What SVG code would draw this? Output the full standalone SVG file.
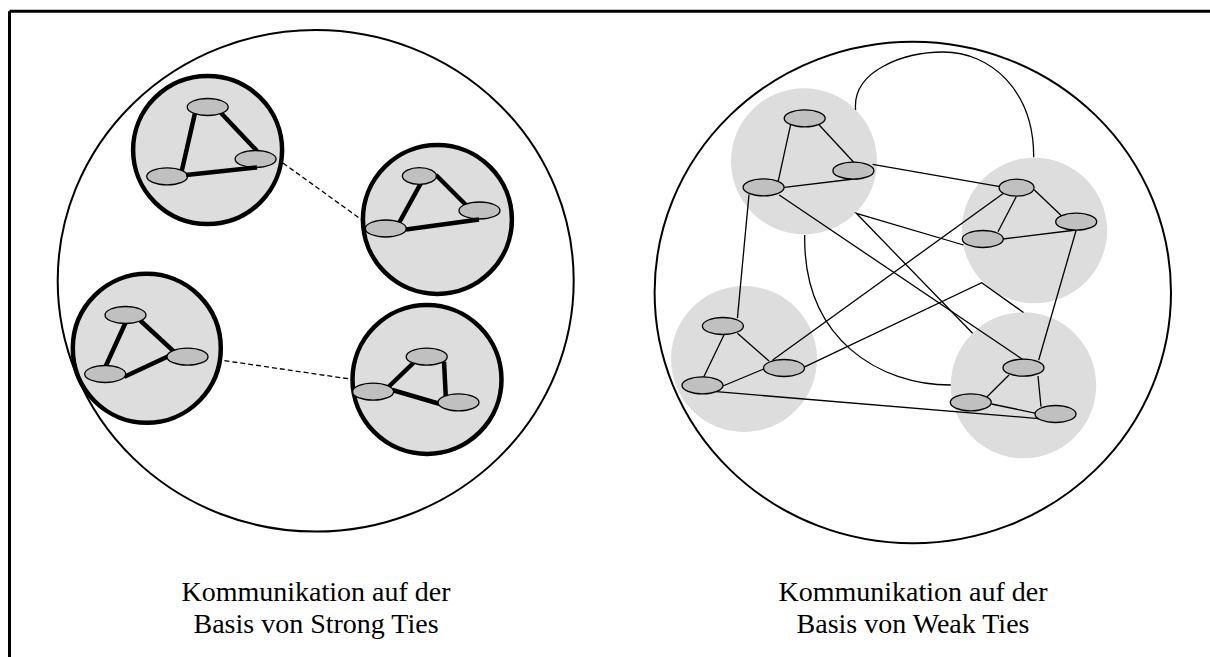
<svg xmlns="http://www.w3.org/2000/svg" width="1210" height="657" viewBox="0 0 1210 657">
<style>
.big{fill:#ffffff;stroke:#000;stroke-width:2}
.sc{fill:#dddddd;stroke:#000;stroke-width:4.5}
.wc{fill:#dddddd;stroke:none}
.n{fill:#c0c0c0;stroke:#000;stroke-width:1.3}
.se{stroke:#000;stroke-width:4.5;fill:none}
.de{stroke:#000;stroke-width:1.3;stroke-dasharray:5 3;fill:none}
.we{stroke:#000;stroke-width:1.3;fill:none}
.lbl{font-family:"Liberation Serif","Times New Roman",serif;font-size:28px;fill:#000;text-anchor:middle}
</style>
<rect width="1210" height="657" fill="#fff"/>
<g id="frame" stroke="#000" stroke-width="3" fill="none">
<line x1="9.5" y1="11.3" x2="1210" y2="11.3"/>
<line x1="9.5" y1="11.3" x2="9.5" y2="657"/>
</g>
<!-- LEFT: strong ties -->
<g id="strong-outer"><ellipse class="big" cx="315.7" cy="280.8" rx="258" ry="250.8"/></g>
<g id="strong-connectors">
<line class="de" x1="283" y1="163" x2="362" y2="220"/>
<line class="de" x1="208.6" y1="358.3" x2="352" y2="379.3"/>
</g>
<g id="cluster-s1">
<ellipse class="sc" cx="207.6" cy="150" rx="74.5" ry="74"/>
<line class="se" x1="195" y1="113" x2="181.5" y2="172"/>
<line class="se" x1="221" y1="113" x2="257" y2="151"/>
<ellipse class="n" cx="207.7" cy="107" rx="20.5" ry="8.5"/>
<ellipse class="n" cx="255.6" cy="159" rx="20.5" ry="8.5"/>
<ellipse class="n" cx="167.2" cy="176.3" rx="20.5" ry="8.5"/>
<line class="se" x1="186" y1="175" x2="257" y2="167.5"/>
</g>
<g id="cluster-s2">
<ellipse class="sc" cx="437.4" cy="219.5" rx="74.5" ry="74.5"/>
<line class="se" x1="421" y1="183" x2="399" y2="223"/>
<line class="se" x1="436" y1="175" x2="467" y2="206"/>
<ellipse class="n" cx="419.4" cy="176" rx="17" ry="8.3"/>
<ellipse class="n" cx="479.5" cy="210.5" rx="20.5" ry="8.5"/>
<ellipse class="n" cx="385.8" cy="228.5" rx="20.5" ry="8.5"/>
<line class="se" x1="406" y1="229.5" x2="479" y2="219.5"/>
</g>
<g id="cluster-s3">
<ellipse class="sc" cx="146.8" cy="348.3" rx="74" ry="74.5"/>
<line class="se" x1="126.3" y1="321" x2="105.2" y2="367.3"/>
<line class="se" x1="139.7" y1="320" x2="174" y2="351.7"/>
<line class="se" x1="124.4" y1="376.7" x2="170" y2="355.5"/>
<ellipse class="n" cx="125.5" cy="315" rx="20.5" ry="8.5"/>
<ellipse class="n" cx="187.5" cy="356.7" rx="20.5" ry="8.5"/>
<ellipse class="n" cx="105.2" cy="374" rx="20.5" ry="8.5"/>
</g>
<g id="cluster-s4">
<ellipse class="sc" cx="427" cy="379.5" rx="74.5" ry="74.5"/>
<line class="se" x1="413.3" y1="363" x2="388.4" y2="387"/>
<line class="se" x1="444" y1="361.7" x2="445.8" y2="397"/>
<line class="se" x1="392.3" y1="390" x2="440" y2="404"/>
<ellipse class="n" cx="426.7" cy="356.7" rx="20.5" ry="8.5"/>
<ellipse class="n" cx="373.1" cy="391.7" rx="20.5" ry="8.5"/>
<ellipse class="n" cx="458.5" cy="402.3" rx="20.5" ry="8.5"/>
</g>
<!-- RIGHT: weak ties -->
<g id="weak-outer"><ellipse class="big" cx="912.8" cy="292.5" rx="258.2" ry="250.8"/></g>
<g id="cluster-wA"><ellipse class="wc" cx="804" cy="161.3" rx="73" ry="73"/></g>
<g id="cluster-wB"><ellipse class="wc" cx="1034.4" cy="230.5" rx="72.7" ry="72.8"/></g>
<g id="cluster-wC"><ellipse class="wc" cx="744" cy="359" rx="73" ry="73"/></g>
<g id="cluster-wD"><ellipse class="wc" cx="1023.5" cy="385.3" rx="72.7" ry="73"/></g>
<g id="weak-connectors">
<line class="we" x1="790.9" y1="123.3" x2="778.1" y2="181.7"/>
<line class="we" x1="819.2" y1="125" x2="853.7" y2="162.3"/>
<line class="we" x1="784.3" y1="187.3" x2="858" y2="178.5"/>
<line class="we" x1="1016.2" y1="196.7" x2="998" y2="231.7"/>
<line class="we" x1="1034.4" y1="190" x2="1061.7" y2="216"/>
<line class="we" x1="1002.8" y1="239" x2="1076.2" y2="230"/>
<line class="we" x1="724.3" y1="334.3" x2="703.6" y2="377.3"/>
<line class="we" x1="737.4" y1="333.3" x2="769" y2="361"/>
<line class="we" x1="722.9" y1="386" x2="765.4" y2="368.3"/>
<line class="we" x1="1009" y1="375" x2="987.1" y2="396.7"/>
<line class="we" x1="1038" y1="376" x2="1041" y2="406.7"/>
<line class="we" x1="991.5" y1="404" x2="1036.2" y2="413.3"/>
<line class="we" x1="872.6" y1="164.3" x2="999.9" y2="186.7"/>
<line class="we" x1="749" y1="194.5" x2="737.4" y2="318.3"/>
<line class="we" x1="779.2" y1="195" x2="1023.5" y2="360"/>
<line class="we" x1="1003.5" y1="193.3" x2="772.7" y2="360"/>
<line class="we" x1="1076.2" y1="230" x2="1038.7" y2="360"/>
<polyline class="we" points="963.5,245 856.3,213.3 972.6,333.3"/>
<polyline class="we" points="803.6,367.3 981.7,282.7 1023.5,312.5"/>
<line class="we" x1="716.3" y1="391.7" x2="1047" y2="419.3"/>
<path class="we" d="M855.6,110 C852,70 905,52 943.5,52 C990,52 1034,90 1033.7,157.3"/>
<path class="we" d="M804.7,235 C803,340 880,385 950.8,385"/>
</g>
<g id="weak-nodes">
<ellipse class="n" cx="804.7" cy="118.3" rx="20.5" ry="8.5"/>
<ellipse class="n" cx="853.4" cy="170.7" rx="20.5" ry="8.5"/>
<ellipse class="n" cx="763.6" cy="187.3" rx="20.5" ry="8.5"/>
<ellipse class="n" cx="1016.6" cy="187.7" rx="17.5" ry="8.5"/>
<ellipse class="n" cx="1076.2" cy="221.7" rx="20.5" ry="8.5"/>
<ellipse class="n" cx="982.8" cy="239" rx="20.5" ry="8.5"/>
<ellipse class="n" cx="722.9" cy="326" rx="20.5" ry="8.5"/>
<ellipse class="n" cx="784" cy="368" rx="20.5" ry="8.5"/>
<ellipse class="n" cx="702.5" cy="385.3" rx="20.5" ry="8.5"/>
<ellipse class="n" cx="1023.5" cy="367.7" rx="20.5" ry="8.5"/>
<ellipse class="n" cx="970.8" cy="402.3" rx="20.5" ry="8.5"/>
<ellipse class="n" cx="1055.5" cy="414" rx="20.5" ry="8.5"/>
</g>
<g id="labels">
<text class="lbl" x="316" y="601">Kommunikation auf der</text>
<text class="lbl" x="316" y="633">Basis von Strong Ties</text>
<text class="lbl" x="913" y="601">Kommunikation auf der</text>
<text class="lbl" x="913" y="633">Basis von Weak Ties</text>
</g>
</svg>
